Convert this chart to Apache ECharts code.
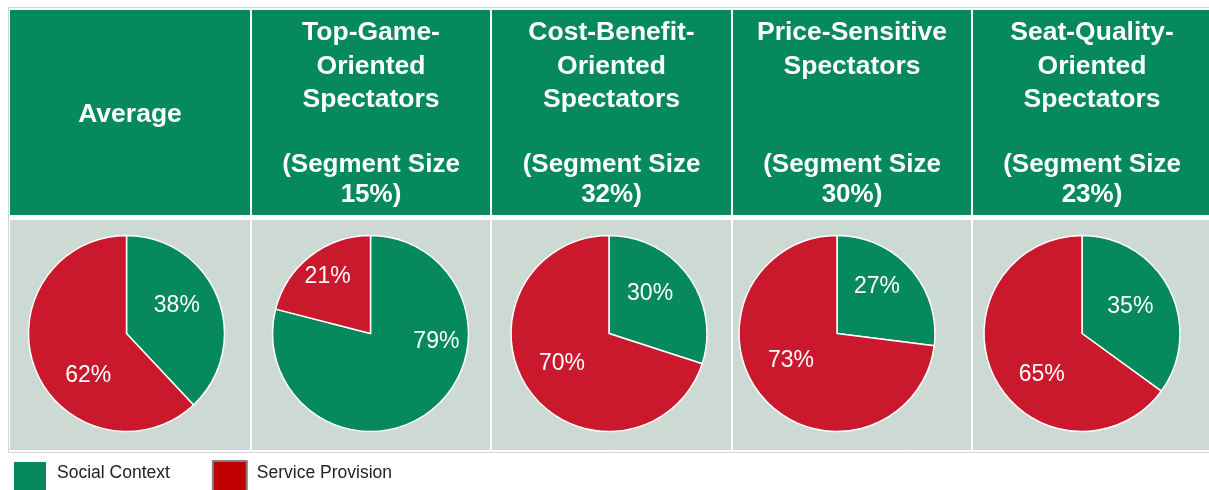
<!DOCTYPE html>
<html>
<head>
<meta charset="utf-8">
<script src="https://cdn.jsdelivr.net/npm/echarts@6/dist/echarts.min.js"></script>
<style>
  html, body { margin: 0; padding: 0; background: #fff; }
  #main { width: 1209px; height: 490px; }
</style>
</head>
<body>
<div id="main"></div>
<script>
// segment headers
var headerTop = [
    ['Average'],
    ['Top-Game-', 'Oriented', 'Spectators'],
    ['Cost-Benefit-', 'Oriented', 'Spectators'],
    ['Price-Sensitive', 'Spectators'],
    ['Seat-Quality-', 'Oriented', 'Spectators']
];
var segmentSize = [null, 15, 32, 30, 23];

// pie values (%)
var socialContext = [38, 79, 30, 27, 35];
var serviceProvision = [62, 21, 70, 73, 65];
var seriesNames = ['Social Context', 'Service Provision'];

var GREEN = '#06895d';
var RED = '#ca182d';
var FONT = 'Arial, "Liberation Sans", sans-serif';

// table layout
var colX = [10, 252, 492, 733, 973];
var colW = [240, 238, 239, 238, 238];
var pieCx = [126.5, 370.5, 609, 837, 1082];
var pieCy = 333.5;
// small nudges so labels sit where the original (Excel best fit) put them
var labelNudge = [
    [[2, -9], [10, 23]],
    [[34, -33], [-11, -16]],
    [[-1, -9], [-5, 0]],
    [[1, -12], [-7, -7]],
    [[2, -3], [6, 18]]
];

var myChart = echarts.init(document.getElementById('main'));

var graphics = [];
// outer border
graphics.push({
    type: 'rect', silent: true,
    shape: { x: 8.5, y: 7.5, width: 1210, height: 445 },
    style: { fill: '#fff', stroke: '#d4d4d4', lineWidth: 1 }
});
colX.forEach(function (x, i) {
    graphics.push({
        type: 'rect', silent: true,
        shape: { x: x, y: 10, width: colW[i], height: 205 },
        style: { fill: GREEN }
    });
    graphics.push({
        type: 'rect', silent: true,
        shape: { x: x, y: 220, width: colW[i], height: 230 },
        style: { fill: '#ccdad3' }
    });
    var cx = x + colW[i] / 2;
    if (segmentSize[i] === null) {
        graphics.push({
            type: 'text', silent: true,
            style: {
                x: cx, y: 115, text: headerTop[i].join('\n'),
                fill: '#fff', fontFamily: FONT, fontWeight: 'bold', fontSize: 26.5,
                align: 'center', verticalAlign: 'middle'
            }
        });
    } else {
        graphics.push({
            type: 'text', silent: true,
            style: {
                x: cx, y: 16, text: headerTop[i].join('\n'),
                fill: '#fff', fontFamily: FONT, fontWeight: 'bold', fontSize: 26.5,
                lineHeight: 33.5, align: 'center', verticalAlign: 'top'
            }
        });
        graphics.push({
            type: 'text', silent: true,
            style: {
                x: cx, y: 150.5, text: '(Segment Size\n' + segmentSize[i] + '%)',
                fill: '#fff', fontFamily: FONT, fontWeight: 'bold', fontSize: 26,
                lineHeight: 29.5, align: 'center', verticalAlign: 'top'
            }
        });
    }
});

var series = [];
for (var i = 0; i < socialContext.length; i++) {
    series.push({
        type: 'pie',
        center: [pieCx[i], pieCy],
        radius: 98,
        startAngle: 90,
        clockwise: true,
        animation: false,
        silent: true,
        itemStyle: { borderColor: '#fff', borderWidth: 1.5 },
        label: {
            show: true,
            position: 'inside',
            formatter: '{c}%',
            color: '#fff',
            fontSize: 23,
            fontFamily: FONT
        },
        labelLine: { show: false },
        data: [
            { name: seriesNames[0], value: socialContext[i],
              itemStyle: { color: GREEN }, label: { offset: labelNudge[i][0] } },
            { name: seriesNames[1], value: serviceProvision[i],
              itemStyle: { color: RED }, label: { offset: labelNudge[i][1] } }
        ]
    });
}

var option = {
    backgroundColor: '#fff',
    graphic: graphics,
    legend: {
        left: 12,
        top: 460,
        padding: 0,
        itemWidth: 34,
        itemHeight: 34,
        itemGap: 42,
        icon: 'rect',
        selectedMode: false,
        // trailing empty line lifts the text above the icon centre
        formatter: function (name) { return name + '\n'; },
        textStyle: {
            color: '#222',
            fontSize: 17.5,
            fontFamily: FONT,
            lineHeight: 9,
            padding: [0, 0, 0, 5]
        },
        data: [
            { name: seriesNames[0], itemStyle: { color: GREEN } },
            { name: seriesNames[1], itemStyle: { color: '#c00000', borderColor: '#808080', borderWidth: 2 } }
        ]
    },
    series: series
};

myChart.setOption(option);
</script>
</body>
</html>
